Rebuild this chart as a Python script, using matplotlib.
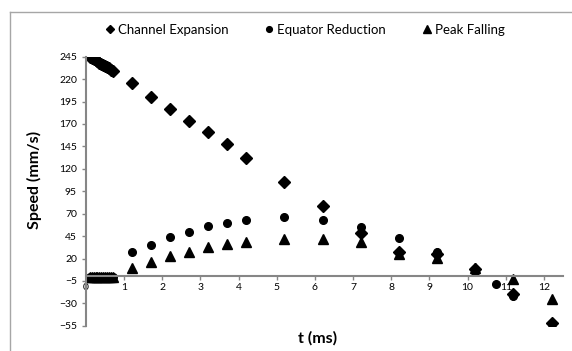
import numpy as np
from matplotlib import pyplot as plt
from matplotlib.lines import Line2D

# Data
t_cluster = [0.1, 0.15, 0.2, 0.25, 0.3, 0.35, 0.4, 0.45, 0.5, 0.55, 0.6, 0.65, 0.7]
t_late = [1.2, 1.7, 2.2, 2.7, 3.2, 3.7, 4.2, 5.2, 6.2, 7.2, 8.2, 9.2, 10.2, 11.2, 12.2]

channel_t = t_cluster + t_late
channel_v = [245, 244, 242.5, 241, 240, 238.5, 237, 236, 234.5, 233, 232, 230.5, 229,
             216, 200, 187, 173, 161, 148, 132, 105, 79, 49, 27, 25, 8, -20, -52]

equator_t = t_cluster + [1.2, 1.7, 2.2, 2.7, 3.2, 3.7, 4.2, 5.2, 6.2, 7.2, 8.2, 9.2, 10.2, 10.75, 11.2, 12.2]
equator_v = [-1] * 13 + [27, 35, 44, 50, 56, 60, 63, 66, 63, 55, 43, 27, 5, -8, -22, -53]

peak_t = t_cluster + t_late
peak_v = [-1] * 13 + [9, 16, 23, 27, 33, 36, 38, 42, 42, 38, 25, 21, 9, -3, -25]

yticks = [-55, -30, -5, 20, 45, 70, 95, 120, 145, 170, 195, 220, 245]
xticks = list(range(0, 13))

plt.rcParams['font.family'] = ['Lato', 'DejaVu Sans']
grey = "#868686"

fig = plt.figure(figsize=(5.72, 3.51), dpi=100)
ax = fig.add_axes([86/572, 1 - 325.8/351, (563 - 86)/572, (325.8 - 56.7)/351])

ax.plot(channel_t, channel_v, "D", color="black", markersize=6, label="Channel Expansion")
ax.plot(equator_t, equator_v, "o", color="black", markersize=5.5, label="Equator Reduction")
ax.plot(peak_t, peak_v, "^", color="black", markersize=7, label="Peak Falling")

ax.set_xlim(0, 12.5)
ax.set_ylim(-55, 245)
ax.set_yticks(yticks)
ax.set_xticks(xticks)

ax.spines["top"].set_visible(False)
ax.spines["right"].set_visible(False)
ax.spines["bottom"].set_position(("data", 0))
for s in ["left", "bottom"]:
    ax.spines[s].set_color(grey)
    ax.spines[s].set_linewidth(1.5)
ax.tick_params(axis="both", colors=grey, labelcolor="black", labelsize=7.5, length=3, width=1)
ax.tick_params(axis="x", pad=2)

fig.text(34/572, 1 - 180/351, "Speed (mm/s)", fontsize=11.5, fontweight="bold",
         rotation=90, ha="center", va="center")
fig.text(318/572, 1 - 338/351, "t (ms)", fontsize=11.5, fontweight="bold", ha="center", va="center")

fig.legend(loc="center", bbox_to_anchor=(304/572, 1 - 30/351), ncol=3, frameon=False,
           fontsize=9.5, handletextpad=0.1, columnspacing=2.6, handlelength=1, markerscale=0.75)

# chart area border
fig.add_artist(Line2D([10/572, 10/572], [0, 1 - 12/351], color="#a6a6a6", linewidth=1))
fig.add_artist(Line2D([10/572, 1], [1 - 12/351, 1 - 12/351], color="#a6a6a6", linewidth=1))

plt.savefig("out.png", dpi=100)
